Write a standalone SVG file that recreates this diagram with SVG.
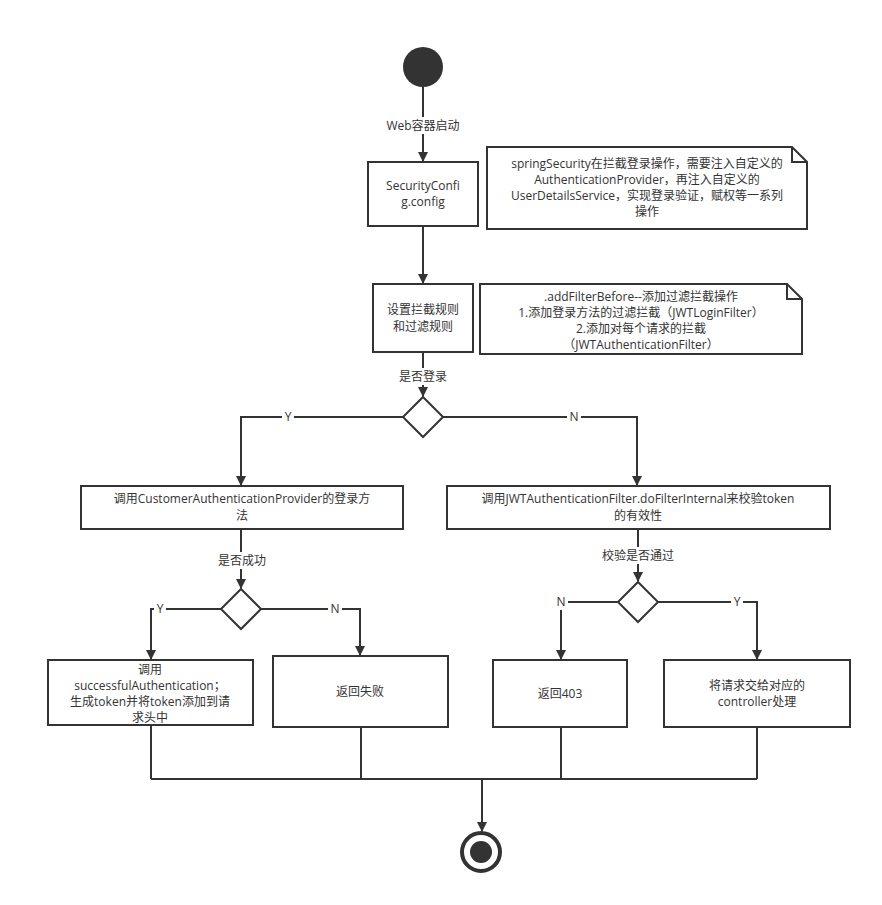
<svg xmlns="http://www.w3.org/2000/svg" width="882" height="905" viewBox="0 0 882 905">
<style>
text{font-family:"Open Sans","Noto Sans CJK SC",sans-serif;font-size:12px;fill:#333;text-anchor:middle}
.n{fill:#fff;stroke:#333;stroke-width:2}
.c{fill:none;stroke:#333;stroke-width:2}
.lb{fill:#fff}
</style>
<defs><marker id="a" markerWidth="10" markerHeight="10" refX="9" refY="5" orient="auto" markerUnits="userSpaceOnUse"><path d="M0,0L10,5L0,10z" fill="#333"/></marker></defs>
<rect width="882" height="905" fill="#fff"/>
<g id="connectors">
<path class="c" d="M423,87V161" marker-end="url(#a)"/>
<path class="c" d="M423,226V283" marker-end="url(#a)"/>
<path class="c" d="M423,352V396" marker-end="url(#a)"/>
<path class="c" d="M403,417H241V485" marker-end="url(#a)"/>
<path class="c" d="M443,417H637V485" marker-end="url(#a)"/>
<path class="c" d="M241,529V588" marker-end="url(#a)"/>
<path class="c" d="M638,529V581" marker-end="url(#a)"/>
<path class="c" d="M221,609H151V659" marker-end="url(#a)"/>
<path class="c" d="M261,609H360V655" marker-end="url(#a)"/>
<path class="c" d="M618,602H561V659" marker-end="url(#a)"/>
<path class="c" d="M658,602H757V659" marker-end="url(#a)"/>
<path class="c" d="M151,725V779M361,727V779M561,727V779M757,727V779M151,779H757"/>
<path class="c" d="M482,779V831" marker-end="url(#a)"/>
<rect class="lb" x="380" y="117" width="86" height="17"/><text x="423" y="130">Web容器启动</text>
<rect class="lb" x="394" y="368" width="58" height="17"/><text x="423" y="381">是否登录</text>
<rect class="lb" x="282" y="409" width="12" height="16"/><text x="288" y="421">Y</text>
<rect class="lb" x="567" y="409" width="14" height="16"/><text x="574" y="421">N</text>
<rect class="lb" x="213" y="552" width="58" height="17"/><text x="242" y="565">是否成功</text>
<rect class="lb" x="601" y="547" width="76" height="17"/><text x="638" y="560">校验是否通过</text>
<rect class="lb" x="154" y="601" width="12" height="16"/><text x="160" y="613">Y</text>
<rect class="lb" x="328" y="601" width="14" height="16"/><text x="335" y="613">N</text>
<rect class="lb" x="554" y="594" width="14" height="16"/><text x="561" y="606">N</text>
<rect class="lb" x="731" y="594" width="12" height="16"/><text x="737" y="606">Y</text>
</g>
<g id="start"><circle cx="423" cy="67" r="20" fill="#333"/></g>
<g id="securityConfig"><rect class="n" x="368" y="162" width="110" height="64"/><text x="423" y="190">SecurityConfi</text><text x="423" y="206">g.config</text></g>
<g id="note1"><path class="n" d="M487,147H792L807,162V229H487Z"/><path class="c" d="M792,147V162H807"/>
<text x="647" y="168">springSecurity在拦截登录操作，需要注入自定义的</text><text x="647" y="184">AuthenticationProvider，再注入自定义的</text><text x="647" y="200">UserDetailsService，实现登录验证，赋权等一系列</text><text x="647" y="216">操作</text></g>
<g id="rules"><rect class="n" x="373" y="284" width="100" height="68"/><text x="423" y="314">设置拦截规则</text><text x="423" y="331">和过滤规则</text></g>
<g id="note2"><path class="n" d="M480,284H787L802,299V354H480Z"/><path class="c" d="M787,284V299H802"/>
<text x="641" y="301">.addFilterBefore--添加过滤拦截操作</text><text x="641" y="317">1.添加登录方法的过滤拦截（JWTLoginFilter）</text><text x="641" y="333">2.添加对每个请求的拦截</text><text x="641" y="349">（JWTAuthenticationFilter）</text></g>
<g id="d1"><path class="n" d="M423,397L443,417L423,437L403,417Z"/></g>
<g id="provider"><rect class="n" x="81" y="486" width="322" height="43"/><text x="242" y="503">调用CustomerAuthenticationProvider的登录方</text><text x="242" y="520">法</text></g>
<g id="jwtFilter"><rect class="n" x="447" y="486" width="383" height="43"/><text x="638" y="503">调用JWTAuthenticationFilter.doFilterInternal来校验token</text><text x="638" y="520">的有效性</text></g>
<g id="d2"><path class="n" d="M241,589L261,609L241,629L221,609Z"/></g>
<g id="d3"><path class="n" d="M638,582L658,602L638,622L618,602Z"/></g>
<g id="success"><rect class="n" x="48" y="660" width="205" height="65"/><text x="150" y="674">调用</text><text x="150" y="690">successfulAuthentication；</text><text x="150" y="706">生成token并将token添加到请</text><text x="150" y="722">求头中</text></g>
<g id="fail"><rect class="n" x="273" y="656" width="175" height="71"/><text x="360" y="696">返回失败</text></g>
<g id="r403"><rect class="n" x="493" y="660" width="134" height="67"/><text x="560" y="698">返回403</text></g>
<g id="controller"><rect class="n" x="664" y="660" width="186" height="67"/><text x="757" y="690">将请求交给对应的</text><text x="757" y="706">controller处理</text></g>
<g id="end"><circle cx="481" cy="852" r="19" fill="#fff" stroke="#333" stroke-width="4"/><circle cx="481" cy="852" r="11" fill="#333"/></g>
</svg>
